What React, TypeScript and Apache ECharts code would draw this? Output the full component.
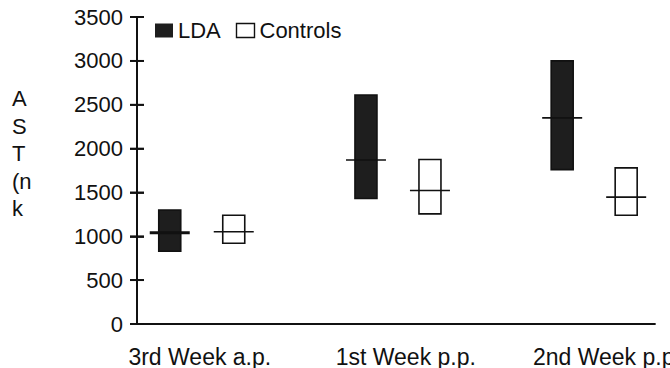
import React, { useEffect, useRef } from "react";
import * as echarts from "echarts";

// Sampling weeks (category positions 0, 1, 2 on the x value axis)
const categories = ["3rd Week a.p.", "1st Week p.p.", "2nd Week p.p."];
// Where each category caption sits along the x axis
const categoryLabelAt = [-0.01, 1.04, 2.065];

// AST activity ranges per week: low end, high end and central value
const ldaLow = [830, 1430, 1760];
const ldaHigh = [1300, 2610, 3000];
const ldaMid = [1040, 1870, 2350];

const controlsLow = [920, 1255, 1240];
const controlsHigh = [1240, 1876, 1780];
const controlsMid = [1052, 1522, 1447];

const yTicks = [0, 500, 1000, 1500, 2000, 2500, 3000, 3500];

const X_MIN = -0.33;
const X_MAX = 2.31;

const GRID_LEFT = 137;
const GRID_RIGHT = 15;
const WIDTH = 670;

const FONT = "'Liberation Sans', Arial, Helvetica, sans-serif";

function rows(low: number[], high: number[], mid: number[]) {
  return low.map((l, i) => [i, l, high[i], mid[i]]);
}

function boxRenderer(offset: number, fill: string, midWidth: number[]) {
  return (params: any, api: any) => {
    const i = api.value(0);
    const lo = api.coord([i, api.value(1)]);
    const hi = api.coord([i, api.value(2)]);
    const md = api.coord([i, api.value(3)]);
    const cx = lo[0] + offset;
    const w = 22;
    return {
      type: "group",
      children: [
        {
          type: "rect",
          shape: { x: cx - w / 2, y: hi[1], width: w, height: lo[1] - hi[1] },
          style: { fill, stroke: "#111", lineWidth: 1.6 },
        },
        {
          type: "line",
          shape: { x1: cx - 20, y1: md[1], x2: cx + 20, y2: md[1] },
          style: { stroke: "#111", lineWidth: midWidth[params.dataIndex] },
        },
      ],
    };
  };
}

// Week captions under the x axis
function captionRenderer(params: any, api: any) {
  const p = api.coord([api.value(0), 0]);
  return {
    type: "text",
    x: p[0],
    y: p[1] + 21,
    style: {
      text: categories[params.dataIndex],
      fontFamily: FONT,
      fontSize: 23,
      fill: "#111",
      align: "center",
      verticalAlign: "top",
    },
  };
}

// Full crossing tick at each y tick value
function crossTickRenderer(_params: any, api: any) {
  const p = api.coord([api.value(0), api.value(1)]);
  return {
    type: "line",
    shape: { x1: p[0] - 7, y1: p[1], x2: p[0] + 7, y2: p[1] },
    style: { stroke: "#111", lineWidth: 1.8 },
  };
}

export default function App() {
  const ref = useRef<HTMLDivElement>(null);

  useEffect(() => {
    if (!ref.current) return;
    const chart = echarts.init(ref.current, undefined, { renderer: "svg" });

    const yScale = {
      type: "value" as const,
      min: yTicks[0],
      max: yTicks[yTicks.length - 1],
      interval: 500,
      splitLine: { show: false },
    };

    chart.setOption({
      animation: false,
      backgroundColor: "#fff",
      grid: { left: GRID_LEFT, right: GRID_RIGHT, top: 17, bottom: 44, containLabel: false },
      legend: {
        left: 155,
        top: 19.5,
        padding: 0,
        itemWidth: 18,
        itemHeight: 14,
        itemGap: 15,
        selectedMode: false,
        textStyle: { fontFamily: FONT, fontSize: 22, color: "#111", lineHeight: 22 },
        data: [
          { name: "LDA", icon: "rect", itemStyle: { color: "#1e1e1e", borderWidth: 0 } },
          {
            name: "Controls",
            icon: "rect",
            itemStyle: { color: "#fff", borderColor: "#111", borderWidth: 1.4 },
          },
        ],
      },
      xAxis: {
        type: "value",
        min: X_MIN,
        max: X_MAX,
        splitLine: { show: false },
        axisLine: { show: true, onZero: false, lineStyle: { color: "#111", width: 1.8 } },
        axisTick: { show: false },
        axisLabel: { show: false },
      },
      yAxis: [
        {
          ...yScale,
          axisLine: { show: true, onZero: false, lineStyle: { color: "#111", width: 2 } },
          axisTick: { show: true, length: 7, lineStyle: { color: "#111", width: 1.8 } },
          axisLabel: {
            fontFamily: FONT,
            fontSize: 22,
            color: "#111",
            margin: 14,
            formatter: (v: number) => String(v),
          },
        },
        {
          // Right-side scale shifted onto the left edge: its outward ticks point into the plot
          ...yScale,
          position: "right",
          offset: -(WIDTH - GRID_LEFT - GRID_RIGHT),
          axisLine: { show: false, onZero: false },
          axisTick: { show: true, length: 7, lineStyle: { color: "#111", width: 1.8 } },
          axisLabel: { show: false },
        },
      ],
      graphic: [
        {
          type: "text",
          left: 12,
          top: 85,
          style: {
            text: "A\nS\nT\n(n\nk",
            fontFamily: FONT,
            fontSize: 22,
            lineHeight: 27.5,
            fill: "#111",
          },
        },
      ],
      series: [
        {
          name: "ticks",
          type: "custom",
          yAxisIndex: 1,
          silent: true,
          clip: false,
          encode: { x: 0, y: 1 },
          renderItem: crossTickRenderer,
          data: yTicks.map((v) => [X_MIN, v]),
        },
        {
          name: "LDA",
          type: "custom",
          yAxisIndex: 0,
          color: "#1e1e1e",
          encode: { x: 0, y: [1, 2, 3] },
          renderItem: boxRenderer(-32, "#1e1e1e", [3, 1.6, 1.6]),
          data: rows(ldaLow, ldaHigh, ldaMid),
        },
        {
          name: "Controls",
          type: "custom",
          yAxisIndex: 0,
          color: "#ffffff",
          encode: { x: 0, y: [1, 2, 3] },
          renderItem: boxRenderer(32, "#ffffff", [1.6, 1.6, 1.6]),
          data: rows(controlsLow, controlsHigh, controlsMid),
        },
        {
          name: "captions",
          type: "custom",
          yAxisIndex: 0,
          silent: true,
          clip: false,
          encode: { x: 0, y: 1 },
          renderItem: captionRenderer,
          data: categoryLabelAt.map((x) => [x, 0]),
        },
      ],
    });

    return () => chart.dispose();
  }, []);

  return (
    <div
      ref={ref}
      style={{ position: "fixed", left: 0, top: 0, width: WIDTH, height: 368, background: "#fff" }}
    />
  );
}
